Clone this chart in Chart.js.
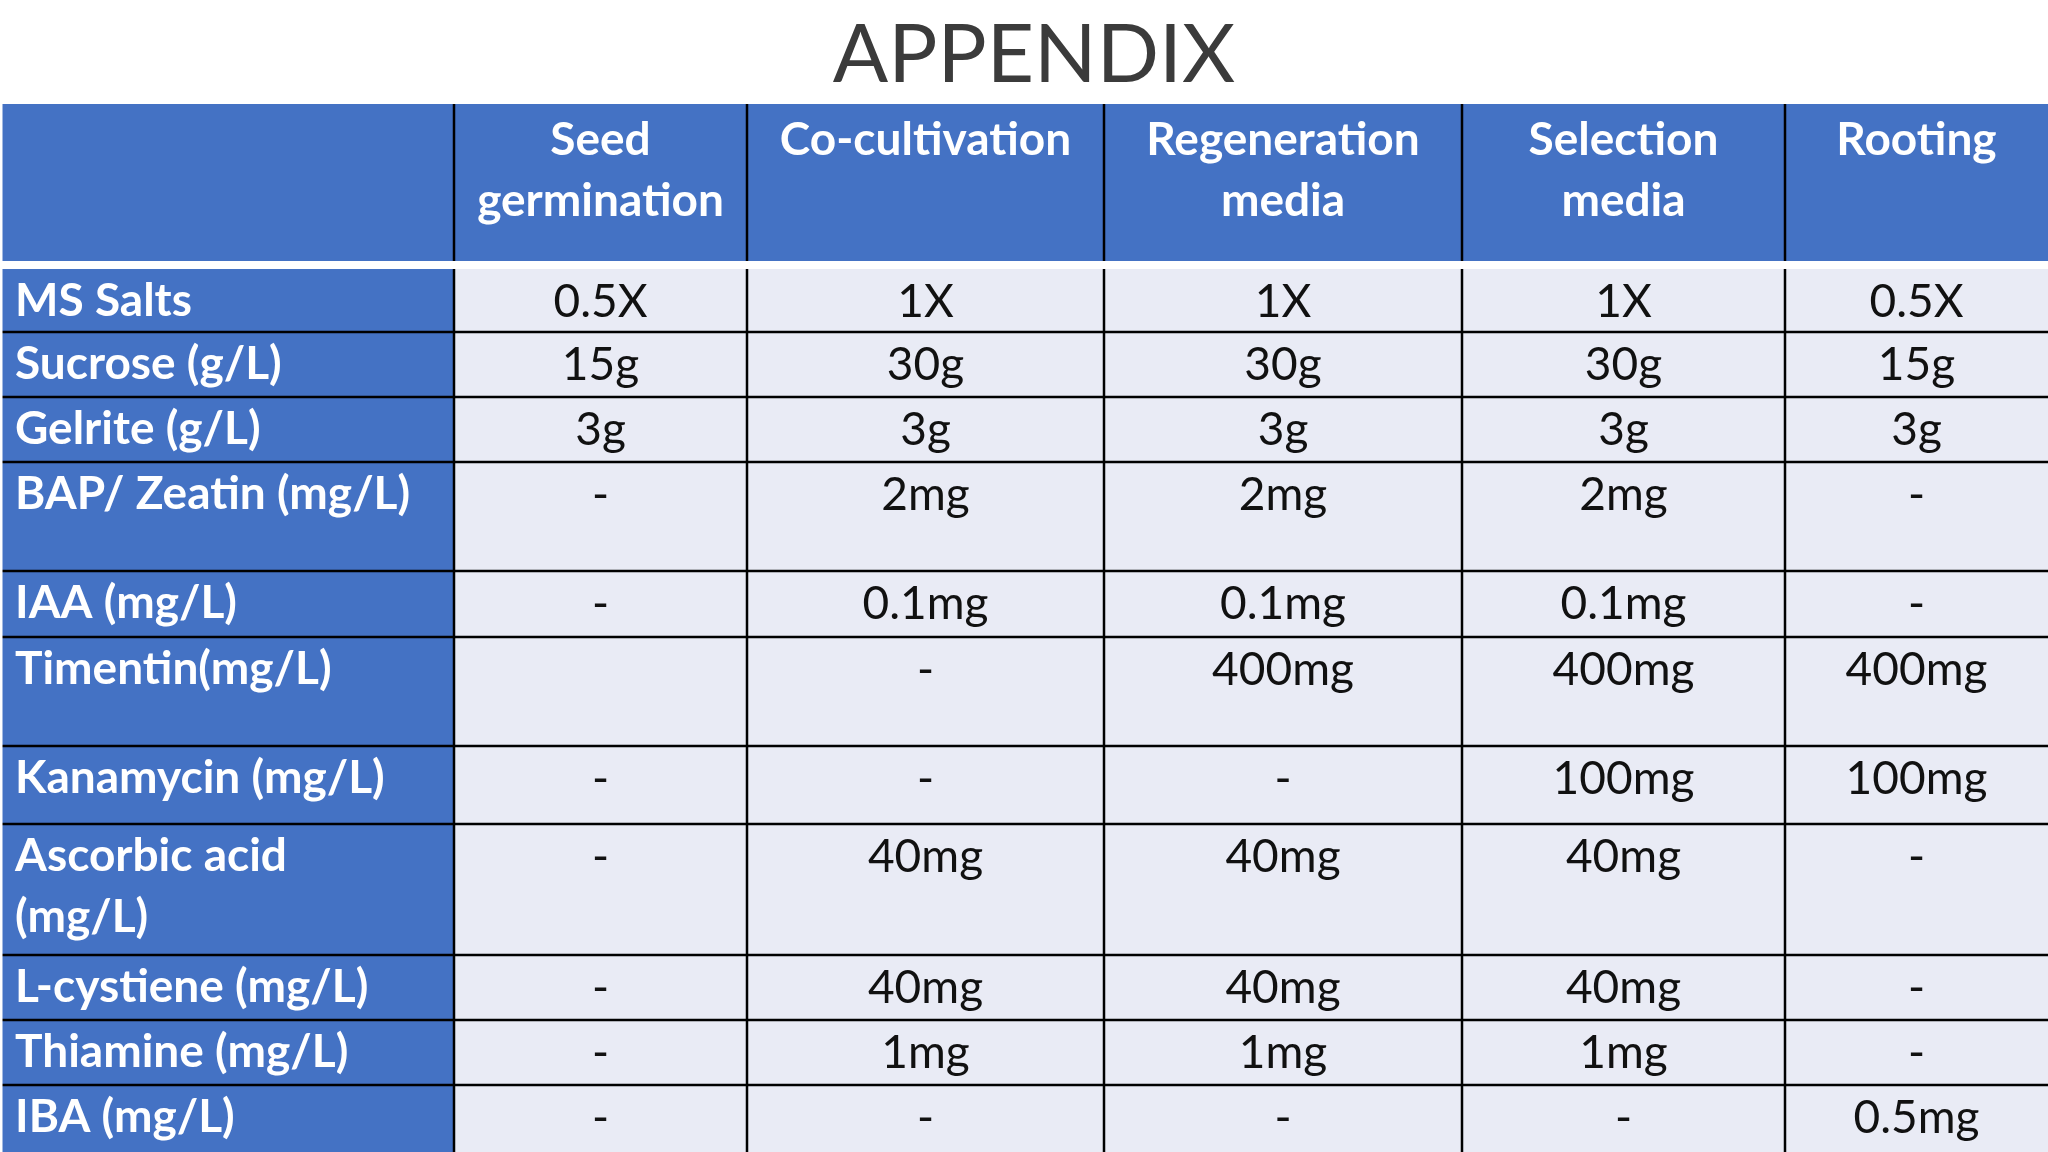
<!DOCTYPE html>
<html><head><meta charset="utf-8">
<script src="https://cdn.jsdelivr.net/npm/chart.js@4"></script>
<style>html,body{margin:0;padding:0;background:#fff;overflow:hidden}canvas{display:block}</style>
</head><body>
<canvas id="c" width="2048" height="1152"></canvas>
<script>
const title = "APPENDIX";
const columns = ["Seed\ngermination", "Co-cultivation", "Regeneration\nmedia", "Selection\nmedia", "Rooting"];
const rowLabels = ["MS Salts","Sucrose (g/L)","Gelrite (g/L)","BAP/ Zeatin (mg/L)","IAA (mg/L)","Timentin(mg/L)","Kanamycin (mg/L)","Ascorbic acid\n(mg/L)","L-cystiene (mg/L)","Thiamine (mg/L)","IBA (mg/L)"];
const seedGermination = ["0.5X","15g","3g","-","-","","-","-","-","-","-"];
const coCultivation = ["1X","30g","3g","2mg","0.1mg","-","-","40mg","40mg","1mg","-"];
const regeneration = ["1X","30g","3g","2mg","0.1mg","400mg","-","40mg","40mg","1mg","-"];
const selection = ["1X","30g","3g","2mg","0.1mg","400mg","100mg","40mg","40mg","1mg","-"];
const rooting = ["0.5X","15g","3g","-","-","400mg","100mg","-","-","-","0.5mg"];
const series = [seedGermination, coCultivation, regeneration, selection, rooting];

// layout (pixels in 2048x1152 space)
const colEdges = [0,454,747,1104,1462,1785,2048];
const headTop = 104, headBottom = 261;
const rowEdges = [269,332,397,462,571,637,746,824,955,1020,1085,1152];
const FONT = "Lato, 'Open Sans', sans-serif";

const tablePlugin = {
  id: 'table',
  afterDraw(chart) {
    const ctx = chart.ctx, X = chart.scales.x, Y = chart.scales.y;
    const px = v => X.getPixelForValue(v), py = v => Y.getPixelForValue(v);
    ctx.save();
    // title
    ctx.fillStyle = '#3b3b3b';
    ctx.font = `82px ${FONT}`;
    ctx.textAlign = 'center'; ctx.textBaseline = 'middle';
    ctx.fillText(title, px(1034), py(56));
    const blue = '#4472C4', cell = '#E9EBF5';
    // header
    ctx.fillStyle = blue;
    ctx.fillRect(px(0), py(headTop), px(2048)-px(0), py(headBottom)-py(headTop));
    // rows
    for (let r = 0; r < rowLabels.length; r++) {
      const t = py(rowEdges[r]), b = py(rowEdges[r+1]);
      ctx.fillStyle = blue; ctx.fillRect(px(0), t, px(colEdges[1]) - px(0), b - t);
      ctx.fillStyle = cell; ctx.fillRect(px(colEdges[1]), t, px(2048) - px(colEdges[1]), b - t);
    }
    // lines
    ctx.strokeStyle = '#000'; ctx.lineWidth = 2.5;
    for (let c = 1; c < colEdges.length - 1; c++) {
      ctx.beginPath(); ctx.moveTo(px(colEdges[c]), py(headTop)); ctx.lineTo(px(colEdges[c]), py(headBottom)); ctx.stroke();
      ctx.beginPath(); ctx.moveTo(px(colEdges[c]), py(rowEdges[0])); ctx.lineTo(px(colEdges[c]), py(1152)); ctx.stroke();
    }
    for (let r = 1; r < rowEdges.length - 1; r++) {
      ctx.beginPath(); ctx.moveTo(px(0), py(rowEdges[r])); ctx.lineTo(px(2048), py(rowEdges[r])); ctx.stroke();
    }
    ctx.strokeStyle = '#fff'; ctx.lineWidth = 8;
    ctx.beginPath(); ctx.moveTo(px(0), py(265)); ctx.lineTo(px(2048), py(265)); ctx.stroke();
    ctx.lineWidth = 3;
    ctx.beginPath(); ctx.moveTo(px(1), py(headTop)); ctx.lineTo(px(1), py(1152)); ctx.stroke();
    // header text
    ctx.fillStyle = '#fff'; ctx.font = `bold 46px ${FONT}`; ctx.textAlign = 'center';
    columns.forEach((h, i) => {
      const cx = (px(colEdges[i+1]) + px(colEdges[i+2])) / 2;
      h.split('\n').forEach((ln, k) => ctx.fillText(ln, cx, py(headTop + 36 + k * 61)));
    });
    // row labels
    ctx.textAlign = 'left';
    rowLabels.forEach((l, r) => {
      l.split('\n').forEach((ln, k) => ctx.fillText(ln, px(15), py(rowEdges[r] + 32 + k * 61)));
    });
    // values
    ctx.fillStyle = '#111'; ctx.font = `46px ${FONT}`; ctx.textAlign = 'center';
    series.forEach((vals, c) => {
      const cx = (px(colEdges[c+1]) + px(colEdges[c+2])) / 2;
      vals.forEach((v, r) => ctx.fillText(v, cx, py(rowEdges[r] + 33)));
    });
    ctx.restore();
  }
};

new Chart(document.getElementById('c'), {
  type: 'scatter',
  data: { datasets: [{ data: [] }] },
  options: {
    responsive: false, animation: false, devicePixelRatio: 1,
    layout: { padding: 0 },
    plugins: { legend: { display: false }, tooltip: { enabled: false } },
    scales: {
      x: { type: 'linear', min: 0, max: 2048, display: false },
      y: { type: 'linear', min: 0, max: 1152, reverse: true, display: false }
    }
  },
  plugins: [tablePlugin]
});
</script>
</body></html>
